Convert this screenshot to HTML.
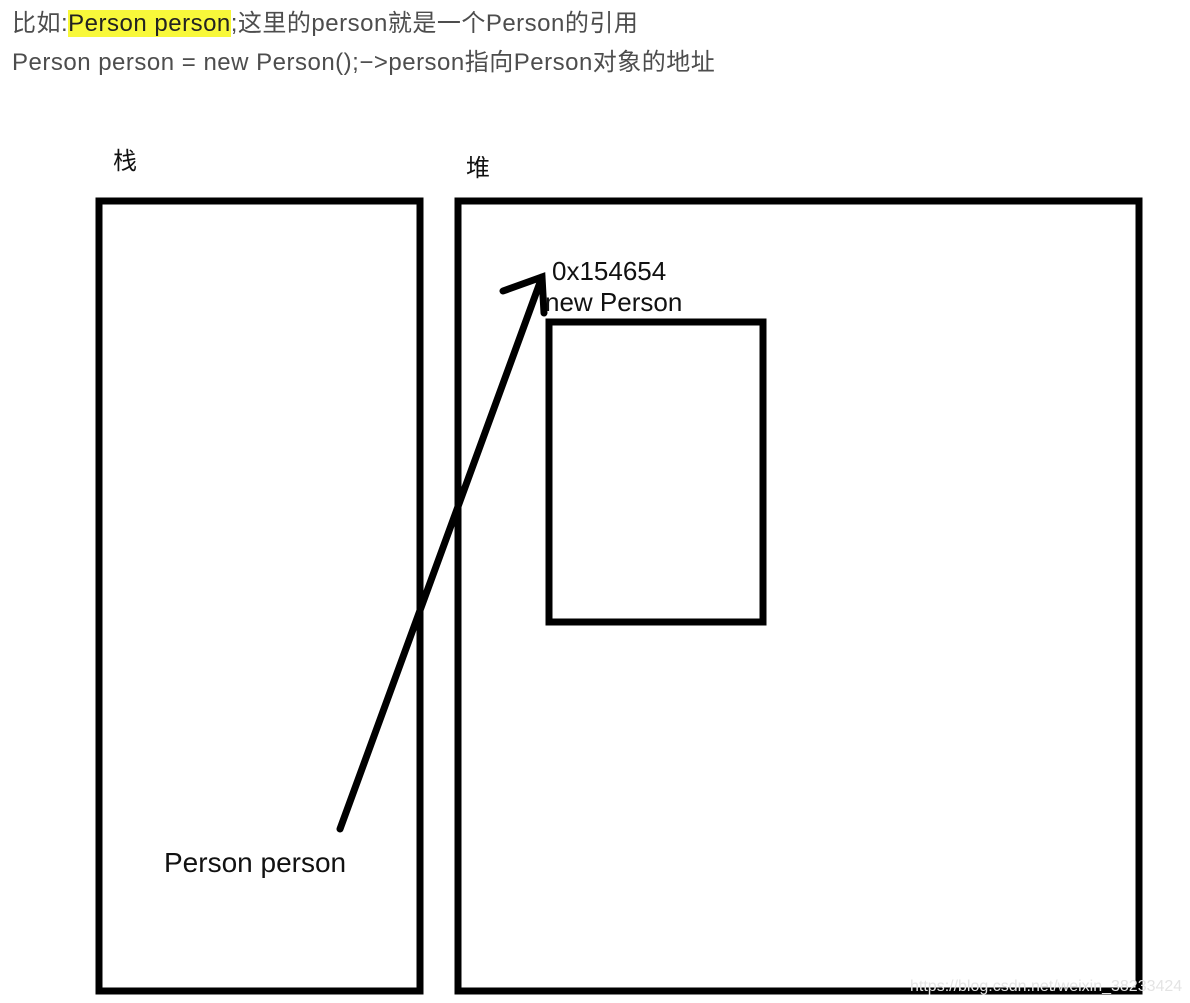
<!DOCTYPE html>
<html><head><meta charset="utf-8"><style>
body{margin:0;width:1190px;height:1003px;background:#fff;overflow:hidden;position:relative;font-family:"Liberation Sans","Noto Sans CJK SC",sans-serif}
.t{position:absolute;left:12px;font-size:24px;color:#4d4d4d;white-space:nowrap;letter-spacing:0.5px}
.hl{background:#f8f83a;color:#222}
</style></head><body>
<div class="t" style="top:3px">比如:<span class="hl">Person person</span>;这里的person就是一个Person的引用</div>
<div class="t" style="top:42px">Person person = new Person();−&gt;person指向Person对象的地址</div>
<svg width="1190" height="1003" style="position:absolute;left:0;top:0">
<g fill="none" stroke="#000" stroke-width="7">
<rect x="99" y="201" width="321" height="790"/>
<rect x="458" y="201" width="681" height="790"/>
<rect x="549" y="322" width="214" height="300"/>
</g>
<g stroke="#000" stroke-width="7" stroke-linecap="round" fill="none">
<line x1="340" y1="829" x2="542" y2="277"/>
<polyline points="503,291 542,277 544,313"/>
</g>
<g font-family="Liberation Sans, Noto Sans CJK SC, sans-serif" fill="#111">
<text x="113" y="169" font-size="24">栈</text>
<text x="466" y="176" font-size="24">堆</text>
<text x="552" y="280" font-size="26">0x154654</text>
<text x="545" y="311" font-size="26">new Person</text>
<text x="164" y="872" font-size="28">Person person</text>
<text x="910" y="991" font-size="16" fill="#e4e4e4">https://blog.csdn.net/weixin_38233424</text>
</g>
</svg>
</body></html>
